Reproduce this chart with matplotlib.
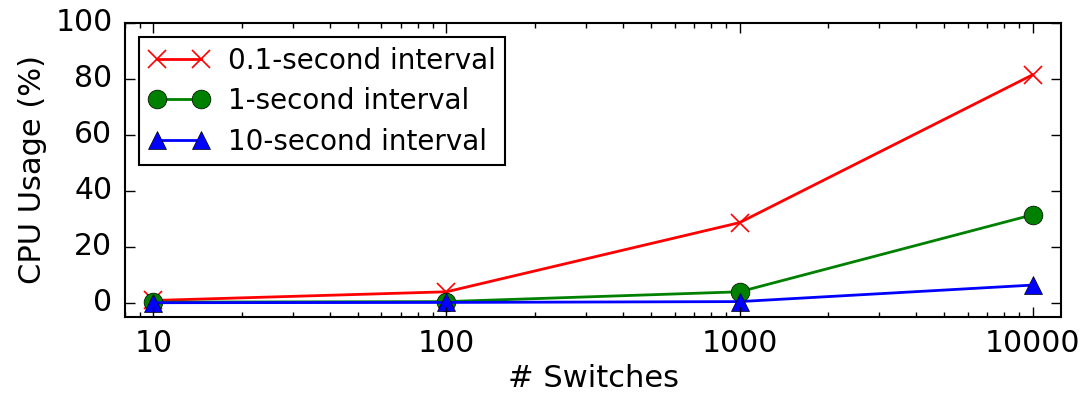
import matplotlib
matplotlib.use("Agg")
import matplotlib.pyplot as plt

switches = [10, 100, 1000, 10000]
cpu_01s = [0.9, 4.0, 28.7, 81.5]
cpu_1s = [0.3, 0.5, 4.0, 31.5]
cpu_10s = [0.1, 0.2, 0.5, 6.4]
labels = ["0.1-second interval", "1-second interval", "10-second interval"]
xtick_labels = ["10", "100", "1000", "10000"]

plt.style.use("classic")
plt.rcParams["font.family"] = ["DejaVu Sans"]
plt.rcParams["font.size"] = 20

fig = plt.figure(figsize=(10.85, 3.93), dpi=100)
fig.patch.set_facecolor("white")
ax = fig.add_axes([0.1152, 0.1934, 0.8627, 0.7481])

ax.plot(switches, cpu_01s, color="red", lw=2, marker="x", ms=13, mew=1.2,
        label=labels[0])
ax.plot(switches, cpu_1s, color="green", lw=2, marker="o", ms=13.5, mec="black",
        mfc="green", label=labels[1])
ax.plot(switches, cpu_10s, color="blue", lw=2, marker="^", ms=13.5, mec="black",
        mfc="blue", label=labels[2])

ax.set_xscale("log")
ax.set_xlim(8.0, 12500)
ax.set_ylim(-5, 100)
ax.set_xticks(switches)
ax.set_xticklabels(xtick_labels)
ax.set_yticks([0, 20, 40, 60, 80, 100])

for s in ax.spines.values():
    s.set_linewidth(1.5)
ax.tick_params(which="major", direction="in", length=7, width=1, top=True, right=True,
               labelsize=21.5, pad=9)
ax.tick_params(which="minor", direction="in", length=3.5, width=1, top=True, right=True)

ax.set_xlabel("# Switches", fontsize=22, labelpad=4)
ax.set_ylabel("CPU Usage (%)", fontsize=22, labelpad=6)

leg = ax.legend(loc="upper left", numpoints=2, fontsize=20, frameon=True,
                borderaxespad=0.5, handlelength=2.2, handletextpad=0.65,
                labelspacing=0.45, borderpad=0.35)
leg.get_frame().set_linewidth(1.5)
leg.get_frame().set_edgecolor("black")

fig.savefig("out.png", dpi=100, facecolor="white")
